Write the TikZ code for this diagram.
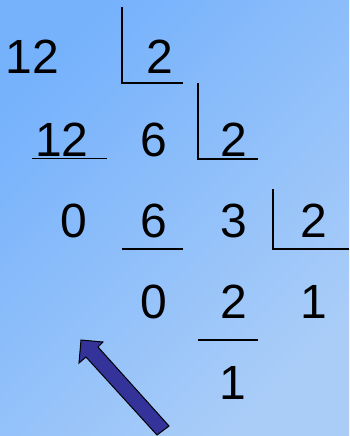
\documentclass[tikz,border=0pt]{standalone}
\usepackage{fontspec}
\setmainfont{Liberation Sans}
\definecolor{bgA}{RGB}{118,178,252}
\definecolor{bgB}{RGB}{170,205,248}
\definecolor{arrowblue}{RGB}{51,51,153}
\begin{document}
\begin{tikzpicture}[x=1pt,y=-1pt,
  num/.style={anchor=base, inner sep=0pt, font=\fontsize{48}{56}\selectfont},
  rule/.style={line width=1.8pt, black},
  bigarrow/.style={fill=arrowblue, draw=black, line width=1pt, line join=miter}]
\useasboundingbox (0,0) rectangle (349,436);
\shade[top color=bgA, bottom color=bgB, shading angle=45] (0,0) rectangle (349,436);
% row 1
\node[num] (r1a) at (32.5,74) {12};
\node[num] (r1b) at (159.5,74) {2};
% row 2
\node[num] (r2a) at (62,156) {12};
\node[num] (r2b) at (153.5,156) {6};
\node[num] (r2c) at (234,156) {2};
% row 3
\node[num] (r3a) at (74,237) {0};
\node[num] (r3b) at (153.5,237) {6};
\node[num] (r3c) at (234,237) {3};
\node[num] (r3d) at (313.5,237) {2};
% row 4
\node[num] (r4a) at (153.5,318) {0};
\node[num] (r4b) at (233.5,318) {2};
\node[num] (r4c) at (313.5,318) {1};
% row 5
\node[num] (r5a) at (233,399) {1};
% division brackets
\draw[rule] (122,7) -- (122,83) -- (183,83);
\draw[rule] (198,83) -- (198,159) -- (258,159);
\draw[rule] (273,189) -- (273,249) -- (349,249);
% subtraction rules
\draw[rule] (32,158.5) -- (107,158.5);
\draw[rule] (122,249) -- (183,249);
\draw[rule] (198,340) -- (258,340);
% arrow
\filldraw[bigarrow] (81,340) -- (103,342) -- (98,347) -- (169,426) -- (157,435) -- (86,357) -- (79,363) -- cycle;
\end{tikzpicture}
\end{document}
